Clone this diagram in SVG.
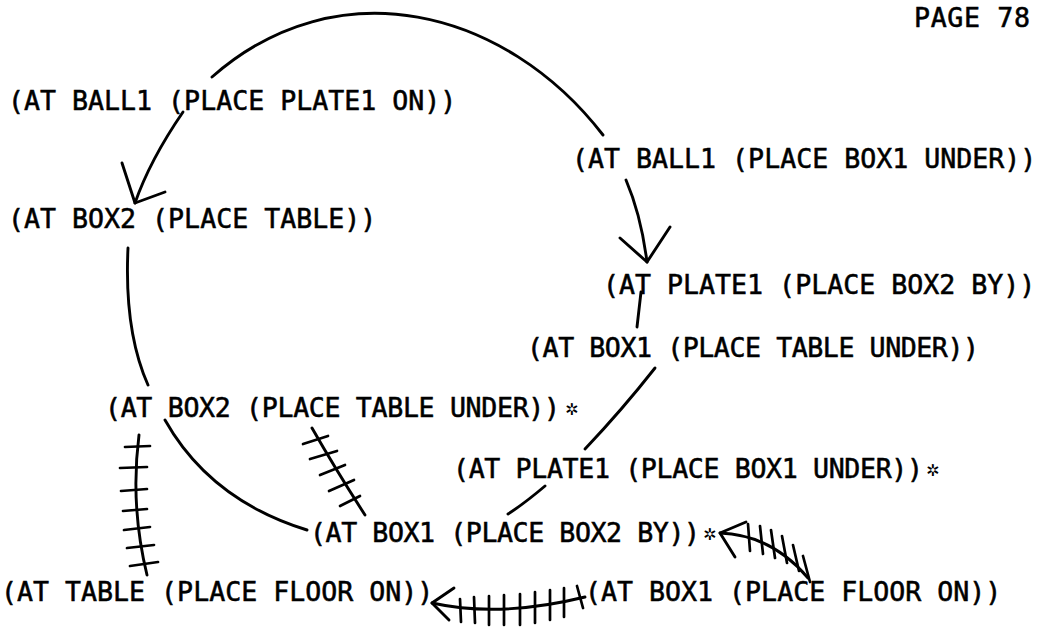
<svg xmlns="http://www.w3.org/2000/svg" width="1044" height="633" viewBox="0 0 1044 633">
  <style>
    .t { font-family: "DejaVu Sans Mono", "Liberation Mono", monospace; font-size: 26.6px; fill: #000; stroke: #000; stroke-width: 0.55; }
    .star { font-family: "DejaVu Sans", sans-serif; font-size: 16px; font-weight: bold; fill: #000; }
    .ln { fill: none; stroke: #000; stroke-width: 2.9; stroke-linecap: round; stroke-linejoin: round; }
    .tk { fill: none; stroke: #000; stroke-width: 2.7; stroke-linecap: round; }
  </style>
  <rect width="1044" height="633" fill="#fff"/>

  <text class="t" x="914" y="27" textLength="116">PAGE 78</text>

  <g id="n-ball1-plate1-on"><text class="t" x="8" y="110">(AT BALL1 (PLACE PLATE1 ON))</text></g>
  <g id="n-ball1-box1-under"><text class="t" x="572" y="168">(AT BALL1 (PLACE BOX1 UNDER))</text></g>
  <g id="n-box2-table"><text class="t" x="8" y="228">(AT BOX2 (PLACE TABLE))</text></g>
  <g id="n-plate1-box2-by"><text class="t" x="603" y="294">(AT PLATE1 (PLACE BOX2 BY))</text></g>
  <g id="n-box1-table-under"><text class="t" x="527" y="357" textLength="452">(AT BOX1 (PLACE TABLE UNDER))</text></g>
  <g id="n-box2-table-under">
    <text class="t" x="105" y="417" textLength="455">(AT BOX2 (PLACE TABLE UNDER))</text>
    <text class="star" x="565" y="415">✲</text>
  </g>
  <g id="n-plate1-box1-under">
    <text class="t" x="453" y="478" textLength="470">(AT PLATE1 (PLACE BOX1 UNDER))</text>
    <text class="star" x="926" y="476">✲</text>
  </g>
  <g id="n-box1-box2-by">
    <text class="t" x="310" y="542" textLength="390">(AT BOX1 (PLACE BOX2 BY))</text>
    <text class="star" x="703" y="540">✲</text>
  </g>
  <g id="n-table-floor-on"><text class="t" x="1" y="601">(AT TABLE (PLACE FLOOR ON))</text></g>
  <g id="n-box1-floor-on"><text class="t" x="585" y="601">(AT BOX1 (PLACE FLOOR ON))</text></g>

  <g id="connectors">
    <!-- outer ring, top arc -->
    <path class="ln" d="M212,77 C337,-33 505,8 603,135"/>
    <!-- into (AT BOX2 (PLACE TABLE)) -->
    <path class="ln" d="M183,112 Q150,160 135,203"/>
    <path class="ln" d="M122,163 L135,203 L165,192"/>
    <!-- left side going down -->
    <path class="ln" d="M128,248 C126,290 128,340 148,385"/>
    <path class="ln" d="M165,420 Q210,500 307,530"/>
    <!-- right side going down -->
    <path class="ln" d="M626,180 Q641,215 647,262"/>
    <path class="ln" d="M620,238 L647,262 L670,227"/>
    <path class="ln" d="M641,292 L637,327"/>
    <path class="ln" d="M655,368 Q622,410 585,449"/>
    <path class="ln" d="M545,486 Q525,503 508,514"/>

    <!-- struck-out link: BOX2 TABLE UNDER to TABLE FLOOR ON -->
    <path class="ln" d="M139,435 Q130,505 147,575"/>
    <path class="tk" d="M125,447 L150,446 M120,468 L147,467 M121,491 L147,489 M123,511 L147,509 M124,530 L150,527 M127,548 L154,545 M130,566 L158,562"/>

    <!-- struck-out link: BOX2 TABLE UNDER to BOX1 BOX2 BY -->
    <path class="ln" d="M312,428 Q336,470 365,515"/>
    <path class="tk" d="M303,444 L328,436 M310,459 L337,451 M320,475 L345,465 M329,491 L354,480 M340,506 L360,496"/>

    <!-- struck-out arrow: BOX1 FLOOR ON to TABLE FLOOR ON -->
    <path class="ln" d="M432,603 Q500,618 585,597"/>
    <path class="ln" d="M454,588 L432,603 L449,620"/>
    <path class="tk" d="M460,599 L461,622 M474,597 L475,623 M489,596 L489,625 M504,595 L504,625 M520,594 L520,625 M535,592 L535,623 M550,590 L550,620 M564,588 L564,617 M577,586 L583,608"/>

    <!-- struck-out arrow: BOX1 FLOOR ON to BOX1 BOX2 BY -->
    <path class="ln" d="M720,533 Q772,535 808,578"/>
    <path class="ln" d="M746,522 L720,533 L735,557"/>
    <path class="tk" d="M748,524 L750,551 M760,526 L763,554 M771,530 L775,558 M782,536 L787,563 M793,545 L799,571 M803,556 L810,582"/>
  </g>
</svg>
